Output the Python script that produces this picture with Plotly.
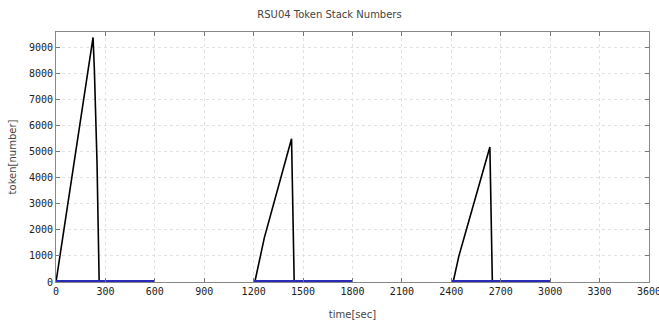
import plotly.graph_objects as go

# Token stack (black line)
token_time = [0, 110, 225, 233, 249, 262,
              None,
              1207, 1265, 1430, 1436, 1446,
              None,
              2411, 2446, 2634, 2643, 2649]
token_value = [0, 4600, 9370, 8130, 4570, 0,
               None,
               0, 1700, 5490, 3300, 0,
               None,
               0, 1000, 5170, 2130, 0]

# Active periods (blue baseline)
active_time = [0, 600, None, 1200, 1800, None, 2400, 3000]
active_value = [0, 0, None, 0, 0, None, 0, 0]

x_ticks = list(range(0, 3601, 300))
y_ticks = list(range(0, 9001, 1000))

fig = go.Figure()
fig.add_trace(go.Scatter(x=token_time, y=token_value, mode="lines",
                         line=dict(color="black", width=1.6),
                         connectgaps=False, showlegend=False))
fig.add_trace(go.Scatter(x=active_time, y=active_value, mode="lines",
                         line=dict(color="#2a2ab8", width=4),
                         connectgaps=False, showlegend=False))

tickfont = dict(family="DejaVu Sans Mono", size=10, color="#222")
fig.update_layout(
    width=659, height=322,
    margin=dict(l=56, r=10, t=32, b=40, autoexpand=False),
    paper_bgcolor="white", plot_bgcolor="white",
    title=dict(text="RSU04 Token Stack Numbers", x=0.5, xanchor="center",
               y=0.955, yanchor="middle",
               font=dict(family="DejaVu Sans", size=10, color="#444")),
    xaxis=dict(range=[0, 3600], tickvals=x_ticks,
               ticktext=[str(v) for v in x_ticks],
               tickfont=tickfont, ticks="inside", ticklen=4, tickcolor="#777",
               showline=True, linecolor="#888", linewidth=1, mirror="ticks",
               showgrid=True, gridcolor="#e2e2e2", griddash="dot", gridwidth=1,
               zeroline=False, automargin=False, ticklabeloverflow="allow",
               title=dict(text="time[sec]", standoff=14,
                          font=dict(family="DejaVu Sans", size=10, color="#444"))),
    yaxis=dict(range=[0, 9580], tickvals=y_ticks,
               ticktext=[str(v) for v in y_ticks],
               tickfont=tickfont, ticks="inside", ticklen=4, tickcolor="#777",
               showline=True, linecolor="#888", linewidth=1, mirror="ticks",
               showgrid=True, gridcolor="#e2e2e2", griddash="dot", gridwidth=1,
               zeroline=False, automargin=False,
               title=dict(text="token[number]", standoff=10,
                          font=dict(family="DejaVu Sans", size=10, color="#444"))),
)

fig.write_html("out.html", config={"displayModeBar": False},
               post_script="document.body.style.margin='0px';")
